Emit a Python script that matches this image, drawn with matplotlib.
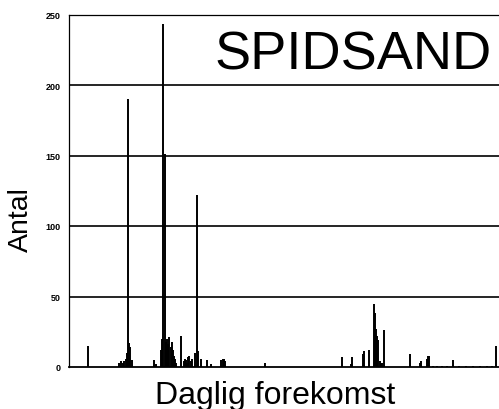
import matplotlib
matplotlib.use('Agg')
import matplotlib.pyplot as plt

plt.rcParams['font.family'] = ['Liberation Sans', 'DejaVu Sans']

# Day of year and number of birds observed that day
days = [16, 42, 44, 46, 47, 48, 49, 50, 51, 52, 53,
        72, 74, 78, 79, 80, 81, 82, 83, 84, 85, 86, 87, 88, 89, 90, 91,
        95, 97, 98, 99, 100, 101, 102, 103, 104, 107, 108, 109,
        112, 117, 120, 129, 130, 131, 132, 166,
        231, 239, 240, 249, 250, 254, 258, 259, 260, 261, 262, 263,
        264, 265, 267, 289, 297, 298, 303, 304, 305,
        308, 312, 316, 320, 325, 330, 336, 342, 348, 354, 358, 362]
counts = [15, 3, 4, 3, 4, 6, 10, 190, 17, 14, 5,
          5, 2, 12, 20, 243, 151, 18, 20, 16, 21, 14, 18, 12, 8, 6, 3,
          22, 4, 6, 5, 3, 7, 8, 4, 6, 10, 122, 11,
          6, 5, 2, 5, 6, 6, 4, 3,
          7, 2, 7, 9, 11, 12, 45, 38, 27, 22, 19, 4,
          3, 3, 26, 9, 3, 4, 6, 8, 8,
          1, 1, 1, 1, 5, 1, 1, 1, 1, 1, 1, 15]

y_ticks = [0, 50, 100, 150, 200, 250]
title = 'SPIDSAND'
x_label = 'Daglig forekomst'
y_label = 'Antal'

fig = plt.figure(figsize=(4.99, 4.10), dpi=100)
ax = fig.add_axes([69 / 499, 1 - 368 / 410, 431 / 499, (368 - 15.5) / 410])

# horizontal gridlines
for yv in y_ticks[1:-1]:
    ax.axhline(yv, color='black', lw=1.2, zorder=1)

ax.vlines(days, 0, counts, color='black', lw=1.4, zorder=2)

ax.set_xlim(0, 365)
ax.set_ylim(0, 250)
ax.set_xticks([])
ax.set_yticks(y_ticks)
ax.set_yticklabels([str(v) for v in y_ticks], fontsize=6.5, fontweight='bold')
ax.tick_params(axis='y', length=0, pad=6)

ax.spines['right'].set_visible(False)
ax.spines['left'].set_linewidth(0.9)
ax.spines['top'].set_linewidth(0.9)
ax.spines['bottom'].set_linewidth(1.3)

ax.text(0.98, 212, title, transform=ax.get_yaxis_transform(),
        ha='right', va='baseline', fontsize=39)

fig.text(21 / 499, 1 - 220 / 410, y_label, rotation=90,
         ha='center', va='center', fontsize=20.5)
fig.text(275 / 499, 1 - 404 / 410, x_label,
         ha='center', va='baseline', fontsize=23)

plt.savefig('out.png', dpi=100)
plt.close()
